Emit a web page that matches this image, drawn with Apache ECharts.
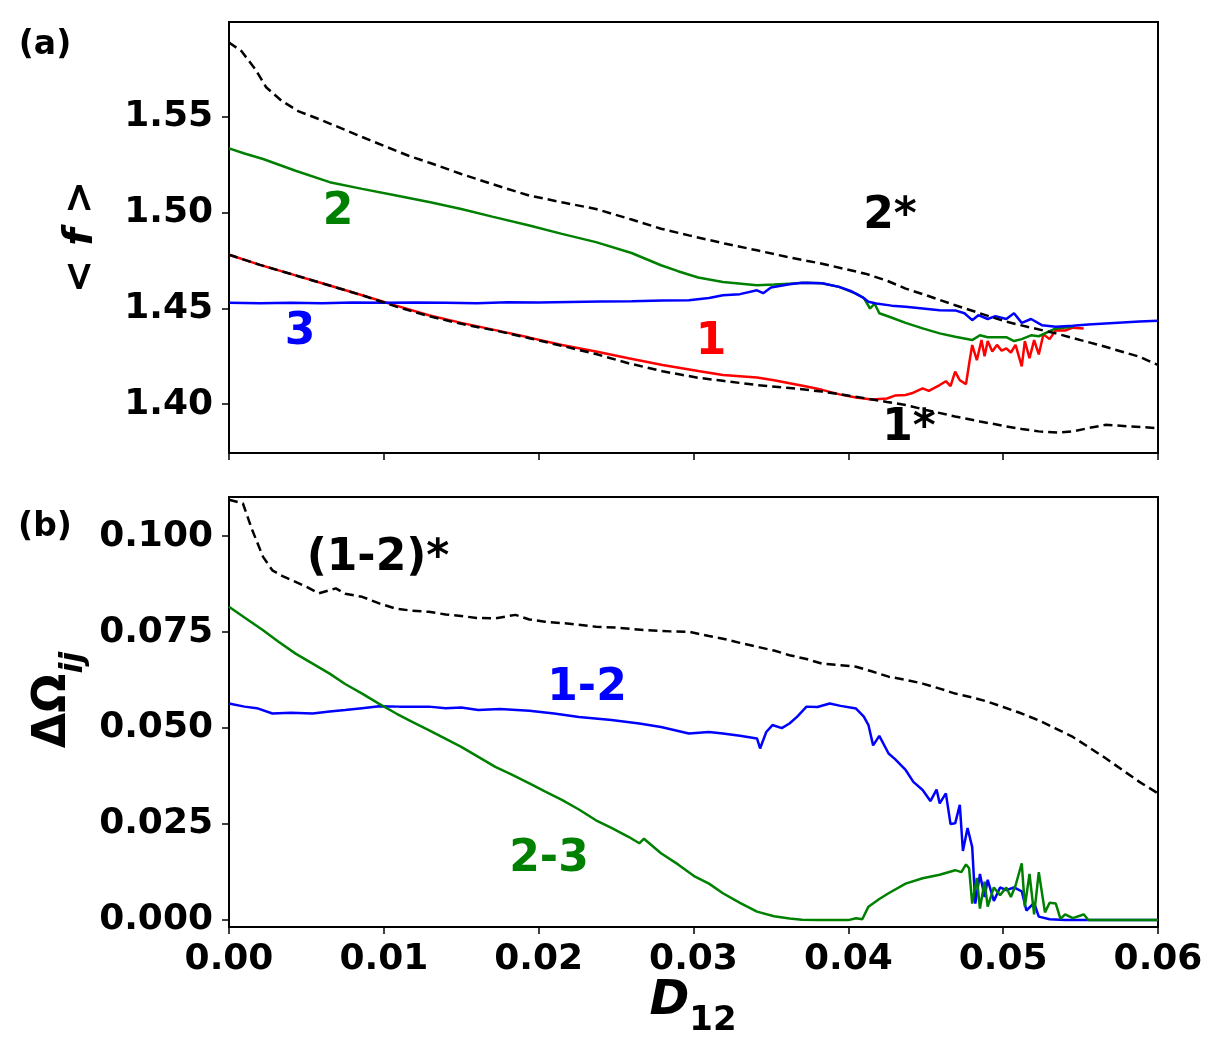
<!DOCTYPE html>
<html>
<head>
<meta charset="UTF-8">
<title>f and Omega vs D12</title>
<script src="https://cdn.jsdelivr.net/npm/echarts@6/dist/echarts.min.js"></script>
<style>
  html, body { margin: 0; padding: 0; background: #fff; }
  #main { width: 1221px; height: 1051px; }
</style>
</head>
<body>
<div id="main"></div>
<script>
// panel (a): <f> of oscillators 1, 2, 3 and uncoupled 1*, 2*
var f1 = [[0,1.4781],[0.002,1.4728],[0.0043,1.4673],[0.0065,1.462],[0.0086,1.4569],[0.0108,1.4515],[0.0129,1.4465],[0.015,1.4425],[0.0172,1.4387],[0.0194,1.4348],[0.0215,1.4309],[0.0237,1.4275],[0.0258,1.424],[0.028,1.4205],[0.0303,1.4174],[0.0319,1.4153],[0.0341,1.4139],[0.0352,1.4125],[0.0362,1.4109],[0.0373,1.4092],[0.0383,1.4075],[0.0395,1.405],[0.0405,1.4035],[0.0415,1.4024],[0.0425,1.403],[0.043,1.4045],[0.0437,1.4048],[0.0442,1.406],[0.0448,1.4083],[0.0452,1.407],[0.0459,1.41],[0.0463,1.412],[0.0466,1.4095],[0.0469,1.417],[0.0472,1.4125],[0.0476,1.4105],[0.0478,1.421],[0.048,1.4309],[0.0483,1.423],[0.0486,1.4335],[0.0488,1.425],[0.049,1.433],[0.0493,1.4275],[0.0496,1.431],[0.0499,1.428],[0.0502,1.4292],[0.0505,1.427],[0.0508,1.431],[0.0512,1.4198],[0.0514,1.433],[0.0517,1.424],[0.052,1.4335],[0.0523,1.426],[0.0526,1.4365],[0.053,1.434],[0.0534,1.4387],[0.054,1.4385],[0.0545,1.44],[0.0552,1.4396]];
var f2 = [[0,1.5337],[0.001,1.531],[0.0022,1.5281],[0.0043,1.522],[0.0065,1.516],[0.0086,1.5125],[0.0108,1.509],[0.013,1.5055],[0.015,1.502],[0.017,1.498],[0.0194,1.4934],[0.0215,1.489],[0.0237,1.4847],[0.026,1.479],[0.0279,1.4726],[0.029,1.4695],[0.0303,1.4662],[0.0319,1.4639],[0.0341,1.4621],[0.0352,1.4625],[0.0362,1.463],[0.0373,1.4635],[0.0383,1.4632],[0.0394,1.4613],[0.0405,1.4578],[0.041,1.4555],[0.0414,1.45],[0.0417,1.4525],[0.042,1.4475],[0.0426,1.4458],[0.0437,1.4425],[0.0448,1.4396],[0.0459,1.437],[0.0469,1.4352],[0.048,1.4335],[0.0485,1.436],[0.049,1.435],[0.0502,1.435],[0.0507,1.433],[0.0512,1.434],[0.0518,1.436],[0.0523,1.4355],[0.0534,1.4396],[0.0545,1.4405]];
var f3 = [[0,1.453],[0.002,1.4528],[0.004,1.453],[0.006,1.4527],[0.008,1.4531],[0.01,1.453],[0.012,1.4532],[0.014,1.453],[0.016,1.4528],[0.018,1.4533],[0.02,1.4531],[0.022,1.4534],[0.024,1.4536],[0.026,1.4538],[0.028,1.4542],[0.0297,1.4543],[0.031,1.4555],[0.0319,1.4569],[0.033,1.4575],[0.0341,1.4595],[0.0345,1.458],[0.035,1.461],[0.0362,1.4627],[0.037,1.4635],[0.0383,1.4632],[0.0394,1.4613],[0.0402,1.459],[0.0409,1.456],[0.0413,1.4535],[0.0418,1.4526],[0.0428,1.4515],[0.0437,1.4509],[0.0448,1.45],[0.0459,1.4491],[0.0469,1.449],[0.0475,1.4475],[0.048,1.4439],[0.0484,1.4465],[0.049,1.4445],[0.0495,1.446],[0.0502,1.4445],[0.0507,1.4475],[0.0512,1.4425],[0.0518,1.4445],[0.0525,1.4413],[0.0534,1.4405],[0.0545,1.441],[0.0555,1.4417],[0.0566,1.4422],[0.0577,1.4427],[0.0588,1.4432],[0.06,1.4436]];
var f1star = [[0,1.4781],[0.002,1.4728],[0.0043,1.4673],[0.0065,1.462],[0.0086,1.4569],[0.0108,1.451],[0.0129,1.446],[0.015,1.442],[0.0172,1.4385],[0.0194,1.4345],[0.0215,1.4305],[0.0237,1.4262],[0.0258,1.4214],[0.028,1.4172],[0.0303,1.4138],[0.0319,1.4122],[0.0341,1.41],[0.0362,1.4085],[0.0383,1.4066],[0.0411,1.4031],[0.0425,1.4012],[0.0437,1.3996],[0.045,1.397],[0.0469,1.3936],[0.0485,1.391],[0.0502,1.3884],[0.0512,1.387],[0.0523,1.3858],[0.0535,1.3852],[0.0545,1.3858],[0.0555,1.3875],[0.0566,1.3892],[0.058,1.3885],[0.06,1.3875]];
var f2star = [[0,1.589],[0.0008,1.5845],[0.0017,1.575],[0.0024,1.5656],[0.0034,1.5585],[0.0045,1.553],[0.0058,1.549],[0.007,1.545],[0.0086,1.5396],[0.01,1.535],[0.0116,1.5298],[0.013,1.526],[0.015,1.5203],[0.017,1.515],[0.0194,1.509],[0.0215,1.5055],[0.0237,1.502],[0.026,1.4965],[0.0279,1.4917],[0.0297,1.4882],[0.032,1.484],[0.0341,1.4804],[0.036,1.477],[0.0383,1.4734],[0.0411,1.4682],[0.0425,1.4645],[0.0437,1.4604],[0.045,1.457],[0.0469,1.4517],[0.0485,1.4475],[0.0502,1.4431],[0.0518,1.44],[0.0534,1.437],[0.055,1.4335],[0.0566,1.43],[0.0588,1.4248],[0.06,1.4205]];

// panel (b): frequency differences
var om12 = [[0,0.0564],[0.001,0.0556],[0.0018,0.0552],[0.0028,0.0538],[0.004,0.054],[0.0054,0.0538],[0.0065,0.0543],[0.0075,0.0547],[0.0086,0.0552],[0.0097,0.0557],[0.011,0.0556],[0.0129,0.0556],[0.014,0.0552],[0.015,0.0554],[0.0161,0.0547],[0.0175,0.055],[0.0194,0.0545],[0.021,0.0538],[0.0226,0.0529],[0.0247,0.0521],[0.0265,0.0512],[0.0279,0.0503],[0.0297,0.0486],[0.031,0.049],[0.0319,0.0486],[0.033,0.048],[0.0341,0.0473],[0.0343,0.0447],[0.0347,0.049],[0.0351,0.0508],[0.0357,0.05],[0.0362,0.0512],[0.0367,0.053],[0.0373,0.0556],[0.038,0.0555],[0.0388,0.0564],[0.0395,0.0558],[0.0405,0.0551],[0.041,0.053],[0.0413,0.0508],[0.0416,0.0455],[0.042,0.048],[0.0426,0.0434],[0.043,0.042],[0.0437,0.0391],[0.0442,0.036],[0.0448,0.0339],[0.0453,0.031],[0.0457,0.034],[0.0459,0.0304],[0.0463,0.033],[0.0466,0.025],[0.0469,0.0252],[0.0472,0.03],[0.0474,0.018],[0.0477,0.024],[0.048,0.019],[0.0482,0.0043],[0.0485,0.012],[0.0488,0.006],[0.049,0.0105],[0.0494,0.005],[0.0498,0.0085],[0.0502,0.0078],[0.0507,0.0085],[0.0512,0.0075],[0.0515,0.0025],[0.052,0.0045],[0.0523,0.0009],[0.053,0.0002],[0.054,0],[0.06,0]];
var om23 = [[0,0.0816],[0.001,0.0788],[0.0022,0.0755],[0.0032,0.0725],[0.0043,0.0694],[0.0054,0.0668],[0.0065,0.0642],[0.0075,0.0615],[0.0086,0.059],[0.0097,0.0563],[0.0108,0.0538],[0.0118,0.0517],[0.0129,0.0495],[0.014,0.0472],[0.015,0.0451],[0.0161,0.0425],[0.0172,0.0399],[0.0183,0.0378],[0.0194,0.0356],[0.0204,0.0335],[0.0215,0.0313],[0.0226,0.0288],[0.0237,0.026],[0.0247,0.024],[0.0258,0.0217],[0.0265,0.02],[0.0268,0.0212],[0.0279,0.0174],[0.029,0.0145],[0.0301,0.0113],[0.031,0.0095],[0.0319,0.007],[0.033,0.0045],[0.0341,0.0022],[0.0352,0.001],[0.0362,0.0004],[0.037,0.0001],[0.038,0],[0.039,0],[0.04,0],[0.0405,0.0005],[0.0409,0.0002],[0.0413,0.0035],[0.042,0.0055],[0.0426,0.007],[0.0437,0.0095],[0.0448,0.0109],[0.0459,0.0118],[0.0469,0.013],[0.0473,0.0125],[0.0476,0.0145],[0.0478,0.0135],[0.048,0.0043],[0.0483,0.011],[0.0485,0.003],[0.0488,0.01],[0.049,0.0035],[0.0494,0.0085],[0.0498,0.0065],[0.0502,0.0085],[0.0505,0.006],[0.0508,0.009],[0.0512,0.0148],[0.0514,0.0035],[0.0517,0.012],[0.052,0.0015],[0.0523,0.0125],[0.0527,0.002],[0.053,0.0045],[0.0534,0.0043],[0.0537,0.0003],[0.054,0.0015],[0.0545,0.0005],[0.055,0.0012],[0.0552,0.0015],[0.0555,0],[0.06,0]];
var om12star = [[0,0.1095],[0.0009,0.1085],[0.0015,0.1016],[0.0022,0.0946],[0.0028,0.0911],[0.0035,0.0895],[0.0043,0.0881],[0.005,0.0868],[0.0058,0.0851],[0.0064,0.0858],[0.0069,0.0864],[0.0075,0.085],[0.0086,0.0842],[0.0097,0.0825],[0.0108,0.0811],[0.0118,0.0806],[0.0129,0.0803],[0.014,0.0796],[0.015,0.0792],[0.016,0.0787],[0.0172,0.0786],[0.0185,0.0795],[0.0194,0.0783],[0.0204,0.0777],[0.022,0.0772],[0.0237,0.0764],[0.025,0.0762],[0.0269,0.0755],[0.0285,0.0752],[0.0297,0.0751],[0.031,0.074],[0.0319,0.0733],[0.033,0.0722],[0.0341,0.0712],[0.0352,0.0702],[0.0362,0.069],[0.0373,0.068],[0.0383,0.0668],[0.0395,0.0664],[0.0405,0.066],[0.0415,0.0648],[0.0426,0.0634],[0.0437,0.0626],[0.0448,0.0616],[0.0459,0.0603],[0.0469,0.059],[0.048,0.058],[0.049,0.0569],[0.05,0.0555],[0.0512,0.0538],[0.0523,0.052],[0.0534,0.0499],[0.0545,0.0477],[0.0555,0.0451],[0.0566,0.0422],[0.0577,0.0391],[0.0588,0.036],[0.06,0.033]];

var topTicks = [1.40, 1.45, 1.50, 1.55];
var bottomTicks = [0, 0.025, 0.05, 0.075, 0.1];

var FONT = '"DejaVu Sans", sans-serif';
var myChart = echarts.init(document.getElementById('main'));

function xAxisCfg(grid, showLabels) {
    return {
        type: 'value', gridIndex: grid, min: 0, max: 0.06, interval: 0.01,
        axisLine: { show: true, onZero: false, lineStyle: { color: '#000', width: 2 } },
        axisTick: { show: true, length: 7, lineStyle: { color: '#000', width: 1.5 } },
        axisLabel: {
            show: showLabels, color: '#000', fontSize: 36, fontWeight: 'bold', fontFamily: FONT, margin: 15,
            formatter: function (v) { return v.toFixed(2); }
        },
        splitLine: { show: false }
    };
}

function yAxisCfg(grid, min, max, ticks, digits) {
    return {
        type: 'value', gridIndex: grid, min: min, max: max,
        axisLine: { show: true, onZero: false, lineStyle: { color: '#000', width: 2 } },
        axisTick: { show: true, length: 7, customValues: ticks, lineStyle: { color: '#000', width: 1.5 } },
        axisLabel: {
            color: '#000', fontSize: 36, fontWeight: 'bold', fontFamily: FONT, margin: 16,
            customValues: ticks,
            formatter: function (v) { return v.toFixed(digits); }
        },
        splitLine: { show: false }
    };
}

function line(name, data, color, xi, dashed) {
    return {
        name: name, type: 'line', data: data, xAxisIndex: xi, yAxisIndex: xi,
        showSymbol: false, symbol: 'none', animation: false, clip: true,
        lineStyle: { color: color, width: 2.5, type: dashed ? [9, 5] : 'solid' }
    };
}

function label(text, x, y, color, size) {
    return {
        type: 'text', x: x, y: y, z: 100,
        style: { text: text, fill: color, font: 'bold ' + size + 'px ' + FONT, align: 'center', verticalAlign: 'middle' }
    };
}

myChart.setOption({
    backgroundColor: '#fff',
    animation: false,
    grid: [
        { left: 229, top: 22, width: 929, height: 431, show: true, borderColor: '#000', borderWidth: 2 },
        { left: 229, top: 497, width: 929, height: 430, show: true, borderColor: '#000', borderWidth: 2 }
    ],
    xAxis: [xAxisCfg(0, false), xAxisCfg(1, true)],
    yAxis: [
        yAxisCfg(0, 1.3745, 1.5997, topTicks, 2),
        yAxisCfg(1, -0.0018, 0.1102, bottomTicks, 3)
    ],
    series: [
        line('1', f1, '#ff0000', 0, false),
        line('2', f2, '#008000', 0, false),
        line('3', f3, '#0000ff', 0, false),
        line('1*', f1star, '#000', 0, true),
        line('2*', f2star, '#000', 0, true),
        line('1-2', om12, '#0000ff', 1, false),
        line('2-3', om23, '#008000', 1, false),
        line('(1-2)*', om12star, '#000', 1, true)
    ],
    graphic: [
        label('(a)', 45, 45, '#000', 33),
        label('(b)', 45, 527, '#000', 33),
        label('2', 338, 213, '#008000', 44),
        label('3', 300, 333, '#0000ff', 44),
        label('1', 711, 343, '#ff0000', 44),
        label('2*', 890, 217, '#000', 44),
        label('1*', 909, 429, '#000', 44),
        label('(1-2)*', 378, 559, '#000', 44),
        label('1-2', 587, 689, '#0000ff', 44),
        label('2-3', 549, 860, '#008000', 44),
        // axis titles
        {
            type: 'text', x: 82, y: 237, rotation: Math.PI / 2, z: 100,
            style: {
                text: '{a|< }{f|f}{a| >}', align: 'center', verticalAlign: 'middle',
                rich: {
                    a: { fontSize: 40, fontWeight: 'bold', fontFamily: FONT, fill: '#000' },
                    f: { fontSize: 40, fontWeight: 'bold', fontStyle: 'italic', fontFamily: FONT, fill: '#000' }
                }
            }
        },
        {
            type: 'text', x: 60, y: 700, rotation: Math.PI / 2, z: 100,
            style: {
                text: '{a|ΔΩ}{s|ij}', align: 'center', verticalAlign: 'middle',
                rich: {
                    a: { fontSize: 46, fontWeight: 'bold', fontFamily: FONT, fill: '#000', verticalAlign: 'top', padding: [0, 0, 14, 0] },
                    s: { fontSize: 32, fontWeight: 'bold', fontStyle: 'italic', fontFamily: FONT, fill: '#000', verticalAlign: 'bottom' }
                }
            }
        },
        {
            type: 'text', x: 693, y: 1008, z: 100,
            style: {
                text: '{d|D}{s|12}', align: 'center', verticalAlign: 'middle',
                rich: {
                    d: { fontSize: 48, fontWeight: 'bold', fontStyle: 'italic', fontFamily: FONT, fill: '#000', verticalAlign: 'top', padding: [0, 0, 12, 0] },
                    s: { fontSize: 34, fontWeight: 'bold', fontFamily: FONT, fill: '#000', verticalAlign: 'bottom' }
                }
            }
        }
    ]
});
</script>
</body>
</html>
